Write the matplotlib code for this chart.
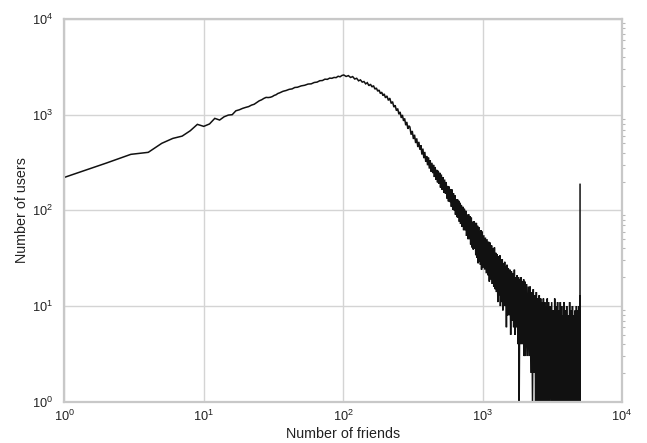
import numpy as np
import matplotlib
matplotlib.use('Agg')
import matplotlib.pyplot as plt
from matplotlib.ticker import LogLocator, LogFormatterSciNotation, NullFormatter

plt.rcParams['font.family'] = ['Liberation Sans', 'DejaVu Sans']
plt.rcParams['mathtext.fontset'] = 'custom'
plt.rcParams['mathtext.rm'] = 'Liberation Sans'
plt.rcParams['mathtext.it'] = 'Liberation Sans:italic'
plt.rcParams['mathtext.bf'] = 'Liberation Sans:bold'

# ---- data: number of users having a given number of friends ----
deg_a = [1, 2, 3, 4, 5, 6, 7, 8, 9, 10, 11, 12, 13, 14, 15, 16, 17, 18, 19, 20,
         21, 22, 23, 24, 25, 26, 27, 28, 29, 30, 31, 32, 33, 34, 35, 37, 39, 41, 43, 45,
         47, 50, 53, 56, 59, 62, 65, 68, 71, 74, 77, 80, 83, 86, 89, 92, 95, 98]
cnt_a = [221, 312, 385, 404, 502, 565, 597, 679, 792, 755, 800, 915, 879, 951, 990, 1000, 1098, 1125, 1164, 1192,
         1215, 1259, 1285, 1340, 1396, 1430, 1480, 1516, 1510, 1520, 1545, 1590, 1615, 1665, 1690, 1755, 1790, 1840, 1860, 1925,
         1935, 2000, 2030, 2090, 2100, 2170, 2190, 2265, 2275, 2350, 2340, 2410, 2400, 2450, 2440, 2520, 2490, 2570]

deg_b = [101, 105, 109, 113, 117, 121, 125, 129, 133, 137, 141, 145, 149, 153, 157, 161, 165, 169, 173, 177,
         181, 185, 189, 193, 197, 201, 206, 211, 216, 221, 226, 231, 236, 241, 246, 251, 256, 261, 266, 271,
         276, 281, 286, 291, 296]
cnt_b = [2600, 2510, 2560, 2450, 2500, 2360, 2400, 2260, 2310, 2190, 2220, 2100, 2160, 2010, 2080, 1950, 2010, 1850, 1900, 1760,
         1810, 1660, 1720, 1580, 1650, 1500, 1570, 1410, 1490, 1310, 1370, 1200, 1255, 1100, 1160, 1010, 1070, 925, 995, 860,
         915, 775, 840, 710, 765]

deg_c = [301, 307, 313, 319, 325, 331, 337, 343, 349, 355, 361, 367, 373, 379, 385, 391, 397, 403, 409, 415,
         421, 427, 433, 439, 445, 451, 457, 463, 469, 475, 481, 487, 493, 499,
         506, 513, 520, 527, 534, 541, 548, 555, 562, 569, 576, 583, 590, 597, 604, 611, 618, 625, 632, 639,
         646, 653, 660, 667, 674, 681, 688, 695,
         704, 713, 722, 731, 740, 749, 758, 767, 776, 785, 794, 803, 812, 821, 830, 839, 848, 857, 866, 875,
         884, 893, 902, 911, 920, 929, 938, 947, 956, 965, 974, 983, 992]
cnt_c = [744, 618, 676, 557, 617, 505, 565, 459, 520, 430, 479, 383, 442, 351, 408, 322, 370, 296, 356, 273,
         333, 254, 314, 245, 299, 223, 284, 209, 265, 196, 259, 190, 247, 173,
         237, 164, 223, 152, 210, 150, 198, 133, 180, 124, 177, 122, 167, 109, 165, 102, 151, 100, 144, 90,
         130, 85, 131, 84, 126, 76, 120, 72,
         114, 67, 109, 62, 104, 62, 99, 54, 90, 50, 91, 50, 87, 44, 84, 41, 76, 39, 77, 40,
         74, 34, 74, 32, 69, 28, 67, 29, 60, 27, 62, 24, 60]

deg_d = [1006, 1020, 1034, 1048, 1062, 1076, 1090, 1104, 1118, 1132, 1146, 1160, 1174, 1188, 1202, 1216, 1230, 1244,
         1258, 1272, 1286, 1300, 1314, 1328, 1342, 1356, 1370, 1384, 1398, 1412, 1426, 1440, 1454, 1468, 1482, 1496,
         1510, 1530, 1550, 1570, 1590, 1610, 1630, 1650, 1670, 1690, 1710, 1730, 1750, 1770, 1790, 1810, 1830,
         1850, 1870, 1890, 1910, 1930, 1950, 1970, 1990]
cnt_d = [25, 55, 24, 52, 22, 50, 21, 47, 18, 46, 19, 43, 17, 40, 16, 41, 15, 36,
         14, 35, 11, 33, 13, 34, 10, 30, 11, 31, 9, 28, 11, 29, 10, 26, 6, 27,
         8, 25, 8, 24, 5, 23, 7, 22, 6, 24, 5, 20, 6, 21, 4, 20, 1,
         19, 4, 20, 4, 18, 4, 19, 3]

deg_e = [2010, 2040, 2070, 2100, 2130, 2160, 2190, 2220, 2250, 2280, 2310, 2340, 2370, 2400, 2430, 2460, 2490,
         2520, 2550, 2580, 2610, 2640, 2670, 2700, 2730, 2760, 2790, 2820, 2850, 2880, 2910, 2940, 2970,
         3010, 3050, 3090, 3130, 3170, 3210, 3250, 3290, 3330, 3370, 3410, 3450, 3490, 3530, 3570, 3610,
         3650, 3690, 3730, 3770, 3810, 3850, 3890, 3930, 3970,
         4010, 4060, 4110, 4160, 4210, 4260, 4310, 4360, 4410, 4460, 4510, 4560, 4610, 4660, 4710, 4760,
         4810, 4860, 4910, 4960, 4985, 4995, 5000]
cnt_e = [18, 3, 17, 3, 16, 3, 16, 2, 14, 1, 15, 2, 13, 1, 14, 1, 12,
         1, 13, 1, 12, 1, 11, 1, 12, 1, 11, 1, 10, 1, 12, 1, 11,
         1, 10, 1, 11, 1, 9, 1, 12, 1, 10, 1, 11, 1, 9, 1, 11,
         1, 10, 1, 8, 1, 11, 1, 9, 1,
         10, 1, 8, 1, 11, 1, 9, 1, 10, 1, 8, 1, 9, 1, 10, 1,
         9, 1, 10, 1, 13, 1, 187]

x_ticks = [1, 10, 100, 1000, 10000]
y_ticks = [1, 10, 100, 1000, 10000]
x_label = "Number of friends"
y_label = "Number of users"

degrees = np.concatenate([deg_a, deg_b, deg_c, deg_d, deg_e])
counts = np.concatenate([cnt_a, cnt_b, cnt_c, cnt_d, cnt_e])

# ---- figure ----
fig = plt.figure(figsize=(6.47, 4.43), dpi=100)
ax = fig.add_axes([0.0994, 0.0932, 0.8620, 0.8639])
ax.plot(degrees, counts, color='#111111', lw=1.1, solid_joinstyle='miter')
ax.set_xscale('log')
ax.set_yscale('log')
ax.set_xlim(x_ticks[0], x_ticks[-1])
ax.set_ylim(y_ticks[0], y_ticks[-1])
ax.set_xticks(x_ticks)
ax.set_yticks(y_ticks)
ax.xaxis.set_major_formatter(LogFormatterSciNotation())
ax.yaxis.set_major_formatter(LogFormatterSciNotation())
ax.xaxis.set_minor_locator(LogLocator(base=10, subs=np.arange(2, 10)))
ax.yaxis.set_minor_locator(LogLocator(base=10, subs=np.arange(2, 10)))
ax.xaxis.set_minor_formatter(NullFormatter())
ax.yaxis.set_minor_formatter(NullFormatter())

ax.set_axisbelow(True)
ax.grid(True, which='major', color='#d4d4d4', lw=1.0)
for s in ax.spines.values():
    s.set_color('#c8c8c8')
    s.set_linewidth(1.6)

ax.tick_params(axis='x', which='both', length=0, pad=5, labelsize=9.2, labelcolor='#222222')
ax.tick_params(axis='y', which='major', length=0, pad=8, labelsize=9.2, labelcolor='#222222')
ax.tick_params(axis='y', which='minor', left=False, right=True, length=2.2, width=0.8,
               color='#b8b8b8', direction='out')

ax.set_xlabel(x_label, fontsize=10.3, color='#222222')
ax.set_ylabel(y_label, fontsize=10.3, color='#222222')
ax.xaxis.set_label_coords(0.5, -0.067)
ax.yaxis.set_label_coords(-0.064, 0.5)

fig.savefig('out.png', dpi=100)
